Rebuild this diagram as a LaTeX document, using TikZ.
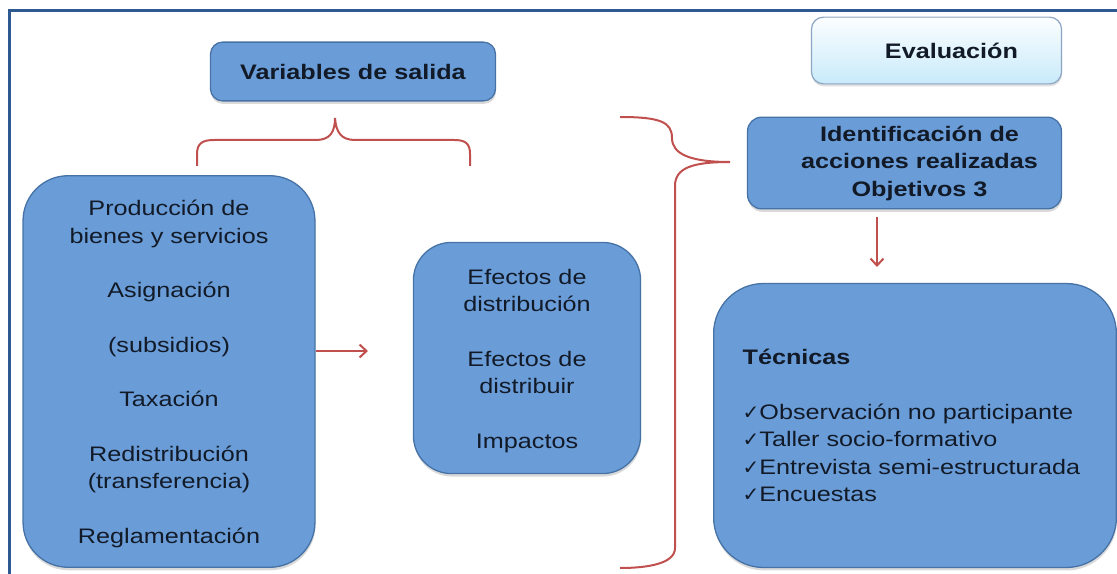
\documentclass[tikz,border=0pt]{standalone}
\usepackage{xcolor}
\usepackage{fontspec}
\setmainfont{Liberation Sans}[FakeStretch=1.2]
\newfontfamily\checkfont{DejaVu Sans}
\usepackage{tikz}
\usetikzlibrary{arrows.meta,shadows}

\definecolor{boxfill}{RGB}{106,157,216}
\definecolor{boxline}{RGB}{70,114,166}
\definecolor{evaltop}{RGB}{252,254,255}
\definecolor{evalbot}{RGB}{200,234,250}
\definecolor{evalline}{RGB}{140,165,195}
\definecolor{bracecol}{RGB}{192,80,77}
\definecolor{framecol}{RGB}{46,90,145}
\definecolor{inkcol}{RGB}{18,26,40}
\newcommand{\chk}{{\checkfont\fontsize{20bp}{27.5bp}\selectfont ✓}}
\newcommand{\shft}{\hspace*{30bp}}

\begin{document}
\begin{tikzpicture}[
  x = 1bp, y = -1bp,
  every node/.style = {text = inkcol, font = \fontsize{21bp}{27.5bp}\selectfont},
  bluebox/.style = {draw = boxline, fill = boxfill, line width = 1.3bp,
    rounded corners = #1, align = center,
    drop shadow = {shadow xshift = 0.5bp, shadow yshift = -3bp, opacity = 0.3}},
  bluebox/.default = 12bp,
  evalbox/.style = {draw = evalline, top color = evaltop, bottom color = evalbot,
    line width = 1.2bp, rounded corners = 12bp,
    drop shadow = {shadow xshift = 0.5bp, shadow yshift = -2.5bp, opacity = 0.25}},
  brace/.style = {draw = bracecol, line width = 2bp},
  redarrow/.style = {brace, -{Straight Barb[length = 7bp, width = 13bp]}}
  ]
  \useasboundingbox (0,0) rectangle (1117,574);
  % frame
  \draw[framecol, line width = 3bp] (9,574) -- (9,11) -- (1117,11);

  % boxes
  \node[bluebox, minimum width = 286, minimum height = 59] (salida) at (353,71.5)
    {\bfseries Variables de salida};
  \node[evalbox, minimum width = 251, minimum height = 67] (eval) at (936.5,50.5)
    {\shft\bfseries Evaluación};
  \node[bluebox = 14bp, minimum width = 315, minimum height = 92] (ident) at (904.5,163)
    {\shft\bfseries Identificación de\\ \shft\bfseries acciones realizadas\\
     \shft\bfseries Objetivos 3};
  \node[bluebox = 45bp, minimum width = 293, minimum height = 393,
    text height = 348bp, text depth = 5bp] (vars) at (169,371.5)
    {Producción de\\ bienes y servicios\\[27bp] Asignación\\[27bp] (subsidios)\\[27bp]
     Taxación\\[27bp] Redistribución\\ (transferencia)\\[27bp] Reglamentación};
  \node[bluebox = 38bp, minimum width = 228, minimum height = 232,
    text height = 185bp, text depth = 5bp] (efectos) at (527,358)
    {Efectos de\\ distribución\\[27bp] Efectos de\\ distribuir\\[27bp] Impactos};
  \node[bluebox = 50bp, minimum width = 404, minimum height = 285, text width = 346,
    inner xsep = 29bp, align = left] (tecnicas) at (915,425.5)
    {{\bfseries Técnicas}\\[27bp]
     \chk Observación no participante\\
     \chk Taller socio-formativo\\
     \chk Entrevista semi-estructurada\\
     \chk Encuestas\\[5bp]};

  % braces
  \draw[brace] (197,166) -- (197,154) .. controls (197,143) and (203,140) .. (214,140)
    -- (316,140) .. controls (330,140) and (335,132) .. (335,118)
    .. controls (336,132) and (341,140) .. (355,140) -- (454,140)
    .. controls (465,140) and (470,143) .. (470,154) -- (470,166);
  \draw[brace] (620,117) .. controls (660,117) and (672,122) .. (672,138)
    .. controls (672,154) and (690,162) .. (730,162)
    .. controls (692,162) and (675,168) .. (675,186) -- (675,548)
    .. controls (675,563) and (650,568) .. (620,568);

  % arrows
  \coordinate (efin) at (368,351);
  \coordinate (tstart) at (877,217);
  \coordinate (tend) at (877,267);
  \draw[redarrow] (vars.east |- efin) -- (efin);
  \draw[redarrow] (tstart) -- (tend);
\end{tikzpicture}
\end{document}
